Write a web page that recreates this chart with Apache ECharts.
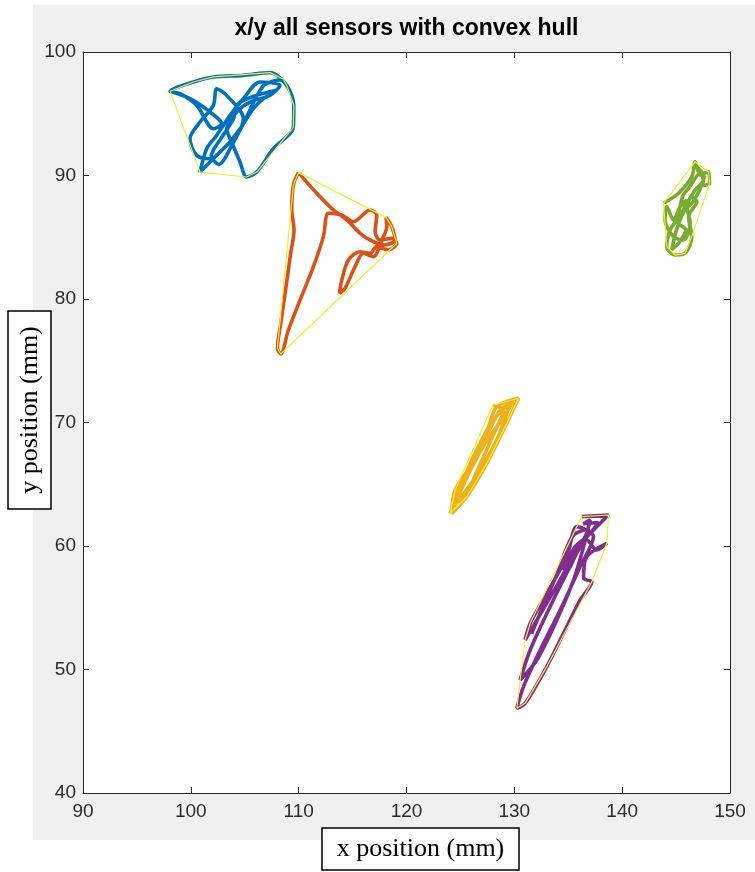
<!DOCTYPE html>
<html><head><meta charset="utf-8">
<script src="https://cdn.jsdelivr.net/npm/echarts@6/dist/echarts.min.js"></script>
<style>html,body{margin:0;padding:0;background:#fff;}#c{width:755px;height:872px;}</style>
</head><body><div id="c"></div>
<script>
// ---- data (mm) ----
const xTicks = [90, 100, 110, 120, 130, 140, 150];
const yTicks = [40, 50, 60, 70, 80, 90, 100];

const sensor1X = [98.07, 99.92, 101.78, 102.86, 102.09, 100.54, 99.00, 98.07, 100.23, 102.09, 104.87, 107.34, 108.89, 109.55, 109.5, 107.65, 106.11, 105.18, 104.56, 103.79, 103.32, 104.25, 105.49, 107.34, 108.27, 106.42, 104.87, 103.63, 102.40, 101.47, 100.85, 101.78, 103.01, 104.25, 104.87, 103.32, 102.40, 102.09, 100.85, 99.92, 100.54, 101.78, 103.32, 104.56, 105.80, 106.73, 107.96, 104.5, 103.9, 102.8, 101.9, 102.6, 103.9, 105.1, 106.1, 106.9, 108.6];
const sensor1Y = [96.81, 96.22, 95.14, 94.20, 93.79, 95.68, 96.63, 96.81, 97.57, 97.98, 98.11, 98.33, 97.30, 95.68, 93.9, 92.17, 90.28, 89.88, 91.09, 92.71, 93.79, 95.14, 95.95, 96.49, 97.30, 97.57, 96.22, 94.87, 93.25, 92.17, 90.28, 91.09, 92.17, 93.25, 94.60, 96.49, 97.03, 95.68, 94.33, 92.98, 91.63, 91.36, 92.44, 93.79, 95.41, 96.22, 96.90, 95.9, 94.5, 93.0, 91.6, 90.9, 92.6, 94.6, 96.4, 97.4, 97.8];

const sensor2X = [109.98, 109.51, 109.36, 109.57, 109.26, 108.83, 108.34, 108.03, 108.34, 109.05, 110.13, 111.37, 112.29, 112.76, 113.98, 115.08, 116.62, 117.24, 117.09, 117.55, 118.63, 119.10, 118.32, 117.24, 116.62, 115.70, 114.61, 114.00, 113.78, 114.30, 115.23, 116.01, 116.93, 117.71, 118.17, 118.11, 118.63, 118.94, 117.86, 116.62, 115.70, 114.46, 113.22, 111.68, 110.44, 110.07];
const sensor2Y = [90.23, 89.23, 87.21, 85.59, 83.70, 81.00, 78.03, 76.01, 75.55, 77.49, 79.92, 82.62, 85.05, 86.94, 86.80, 86.26, 87.21, 86.80, 85.45, 84.78, 84.91, 84.51, 83.97, 84.24, 83.70, 83.83, 83.16, 81.54, 80.46, 80.86, 82.62, 83.70, 83.43, 84.78, 85.86, 86.61, 85.86, 84.78, 84.37, 84.78, 85.32, 86.40, 87.21, 88.56, 89.77, 90.18];

const sensor3X = [124.05, 125.90, 127.60, 128.37, 130.38, 129.30, 127.45, 125.59, 124.20, 124.51, 126.52, 128.07, 129.61, 128.37, 126.21, 124.35, 125.2, 126.9, 128.6, 129.9, 128.9, 127.2, 125.6, 124.6, 125.0, 126.6, 128.2, 129.0, 128.0];
const sensor3Y = [62.64, 66.69, 69.66, 71.28, 71.96, 69.93, 66.69, 63.99, 62.64, 64.53, 67.23, 70.20, 71.55, 68.58, 65.34, 63.18, 64.8, 67.9, 70.9, 71.7, 70.3, 68.2, 65.6, 63.9, 63.6, 66.2, 69.3, 71.0, 71.4];

const sensor4X = [136.26, 138.73, 137.34, 136.11, 134.25, 132.09, 131.00, 131.47, 133.01, 134.87, 135.80, 137.34, 136.11, 134.25, 132.40, 130.85, 130.23, 131.00, 133.01, 134.56, 136.11, 137.19, 136.42, 136.72, 138.58, 137.65, 136.72, 135.18, 133.32, 131.47, 130.54, 132.09, 133.94, 135.49, 136.42, 137.03, 136.4, 137.8, 136.9, 135.6, 134.6, 135.9, 136.9, 135.4, 133.9, 132.6, 131.6];
const sensor4Y = [62.38, 62.51, 61.30, 60.22, 57.25, 54.01, 52.39, 53.74, 56.17, 59.14, 61.57, 60.76, 58.33, 54.82, 51.58, 48.61, 46.86, 47.26, 50.23, 52.93, 55.63, 57.11, 57.38, 59.14, 60.22, 59.68, 60.49, 58.33, 55.09, 51.58, 49.15, 50.77, 54.01, 57.25, 59.95, 62.11, 61.8, 61.9, 60.9, 59.9, 58.0, 59.6, 61.4, 60.8, 57.6, 55.0, 52.9];

const sensor5X = [143.83, 145.22, 146.46, 146.77, 147.23, 148.00, 148.10, 147.08, 146.46, 146.92, 146.15, 146.46, 145.84, 144.91, 144.14, 144.45, 145.53, 146.00, 145.38, 144.76, 144.14, 143.98, 144.76, 145.68, 146.31, 146.00, 146.77, 147.54, 147.23, 146.2, 145.6, 145.2, 145.9, 145.3, 144.6, 145.0, 145.8, 146.6, 147.6, 146.9];
const sensor5Y = [87.75, 88.56, 89.91, 91.12, 90.04, 90.31, 89.36, 89.09, 88.29, 87.88, 86.67, 85.05, 83.70, 83.56, 84.24, 85.59, 86.94, 88.02, 87.48, 86.40, 87.48, 86.40, 85.05, 84.78, 86.13, 87.48, 88.83, 89.64, 90.18, 89.0, 88.3, 86.2, 85.6, 84.6, 84.0, 85.5, 87.2, 87.9, 89.9, 90.7];

const sensorColors = ['#0072BD', '#D95319', '#EDB120', '#7E2F8E', '#77AC30'];
const hullColor = '#f4ee2a';

// ---- helpers ----
function zip(xs, ys) { return xs.map((x, i) => [x, ys[i]]); }
function convexHull(pts) {
  const p = pts.slice().sort((a, b) => a[0] - b[0] || a[1] - b[1]);
  const cross = (o, a, b) => (a[0]-o[0])*(b[1]-o[1]) - (a[1]-o[1])*(b[0]-o[0]);
  const lower = [], upper = [];
  for (const q of p) { while (lower.length >= 2 && cross(lower[lower.length-2], lower[lower.length-1], q) <= 0) lower.pop(); lower.push(q); }
  for (let i = p.length - 1; i >= 0; i--) { const q = p[i]; while (upper.length >= 2 && cross(upper[upper.length-2], upper[upper.length-1], q) <= 0) upper.pop(); upper.push(q); }
  upper.pop(); lower.pop();
  const h = lower.concat(upper);
  h.push(h[0]);
  return h;
}

const sensors = [zip(sensor1X, sensor1Y), zip(sensor2X, sensor2Y), zip(sensor3X, sensor3Y), zip(sensor4X, sensor4Y), zip(sensor5X, sensor5Y)];

const series = [];
sensors.forEach((pts, i) => {
  series.push({
    type: 'line', data: pts, xAxisIndex: 0, yAxisIndex: 0, showSymbol: false, smooth: 0.3,
    lineStyle: { color: sensorColors[i], width: 3.6 }, z: 2, animation: false
  });
});
sensors.forEach((pts, i) => {
  series.push({
    type: 'line', data: convexHull(pts), xAxisIndex: 0, yAxisIndex: 0, showSymbol: false, smooth: false,
    lineStyle: { color: hullColor, width: 1.2 }, z: 3, animation: false
  });
});

const tickFont = { fontSize: 19, color: '#2b2b2b', fontFamily: '"Liberation Sans", Arial, sans-serif' };
const axisCommon = {
  type: 'value', splitLine: { show: false },
  axisLine: { show: true, lineStyle: { color: '#262626', width: 1 } },
  axisTick: { show: true, inside: true, length: 6, lineStyle: { color: '#262626' } }
};

const chart = echarts.init(document.getElementById('c'), null, { renderer: 'canvas' });
chart.setOption({
  animation: false,
  backgroundColor: '#ffffff',
  grid: { left: 83, top: 52, width: 647, height: 741, show: true, backgroundColor: '#ffffff', borderWidth: 0, z: 0 },
  xAxis: [
    Object.assign({}, axisCommon, { min: xTicks[0], max: xTicks[xTicks.length-1], interval: xTicks[1]-xTicks[0], position: 'bottom',
      axisLabel: Object.assign({ margin: 9 }, tickFont) }),
    Object.assign({}, axisCommon, { min: xTicks[0], max: xTicks[xTicks.length-1], interval: xTicks[1]-xTicks[0], position: 'top',
      axisLabel: { show: false } })
  ],
  yAxis: [
    Object.assign({}, axisCommon, { min: yTicks[0], max: yTicks[yTicks.length-1], interval: yTicks[1]-yTicks[0], position: 'left',
      axisLabel: Object.assign({ margin: 7 }, tickFont) }),
    Object.assign({}, axisCommon, { min: yTicks[0], max: yTicks[yTicks.length-1], interval: yTicks[1]-yTicks[0], position: 'right',
      axisLabel: { show: false } })
  ],
  graphic: [
    { type: 'rect', z: -10, silent: true, shape: { x: 33, y: 5, width: 722, height: 835 }, style: { fill: '#f0f0f0' } },
    { type: 'text', z: 10, x: 406.5, y: 29, style: { text: 'x/y all sensors with convex hull', font: 'bold 23px "Liberation Sans", Arial, sans-serif', fill: '#000', align: 'center', verticalAlign: 'middle' } },
    { type: 'rect', z: 10, shape: { x: 8, y: 311, width: 43, height: 198 }, style: { fill: '#fff', stroke: '#000', lineWidth: 1.5 } },
    { type: 'text', z: 11, x: 30, y: 410, rotation: Math.PI / 2, style: { text: 'y position (mm)', font: '26px "Liberation Serif", "Times New Roman", serif', fill: '#000', align: 'center', verticalAlign: 'middle' } },
    { type: 'rect', z: 10, shape: { x: 322, y: 828, width: 197, height: 42 }, style: { fill: '#fff', stroke: '#000', lineWidth: 1.5 } },
    { type: 'text', z: 11, x: 420.5, y: 849, style: { text: 'x position (mm)', font: '26px "Liberation Serif", "Times New Roman", serif', fill: '#000', align: 'center', verticalAlign: 'middle' } }
  ],
  series: series
});
</script></body></html>
